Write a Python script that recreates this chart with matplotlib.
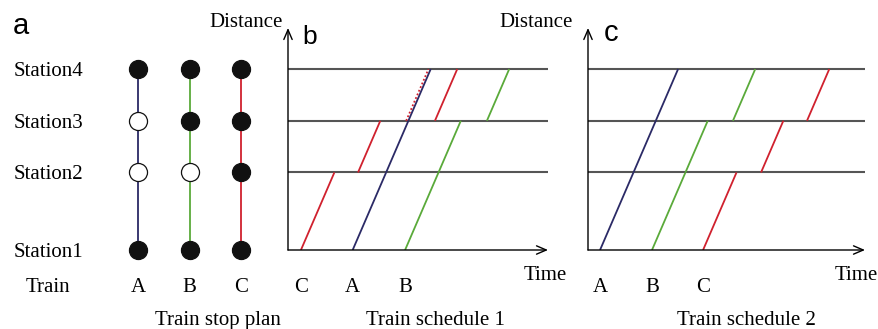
import matplotlib
matplotlib.use("Agg")
import matplotlib.pyplot as plt

# station positions (distance) and names
stations = ["Station1", "Station2", "Station3", "Station4"]
distance = [0, 1.5, 2.5, 3.5]

trains = ["A", "B", "C"]
colors = {"A": "#2b2a66", "B": "#5aaa3a", "C": "#d0212e"}

# stop plan: 1 = stops, 0 = passes (Station1..Station4)
stop_A = [1, 0, 0, 1]
stop_B = [1, 0, 1, 1]
stop_C = [1, 1, 1, 1]

# schedule 1: departure time at Station1 and dwell at Station2, Station3
sched1_start = {"C": 0.58, "A": 2.9, "B": 5.25}
sched1_dwell = {"C": [1.06, 2.45], "A": [0, 0], "B": [0, 1.17]}
sched1_conflict = 5.3   # C would leave Station3 here without waiting for A

# schedule 2
sched2_start = {"A": 0.54, "B": 2.87, "C": 5.16}
sched2_dwell = {"A": [0, 0], "B": [0, 1.13], "C": [1.10, 1.06]}

speed = 1.0
W, H = 879, 329
serif = "Liberation Serif"
sans = "Liberation Sans"
fs = 15


def px(x, y):
    return x / W, 1 - y / H


def segments(start, dwell):
    segs = []
    t = start
    for i in range(1, len(distance)):
        t1 = t + (distance[i] - distance[i - 1]) / speed
        segs.append(((t, t1), (distance[i - 1], distance[i])))
        t = t1
        if i < len(distance) - 1:
            t += dwell[i - 1]
    return segs


fig = plt.figure(figsize=(W / 100, H / 100), dpi=100)

y_unit = 51.7
ybot, ytop = 79, 301
ylim = (0, (ytop - ybot) / y_unit)


def schedule_axes(left, right, start, dwell, title_x, title, dist_x, time_x, letter_x, letter_y, letter, letter_size):
    ax = fig.add_axes([left / W, ybot / H, (right - left) / W, (ytop - ybot) / H])
    xmax = (right - left) / 22.3
    ax.set_xlim(0, xmax)
    ax.set_ylim(*ylim)
    ax.axis("off")
    ax.hlines(distance[1:], 0, xmax, color="#555555", lw=1.5)
    arrow = dict(arrowstyle="->,head_length=0.7,head_width=0.3", color="black", lw=1, shrinkA=0, shrinkB=0)
    ax.annotate("", xy=(1, 0), xytext=(0, 0), xycoords="axes fraction", arrowprops=arrow)
    ax.annotate("", xy=(0, 1), xytext=(0, 0), xycoords="axes fraction", arrowprops=arrow)
    for tr, t0 in start.items():
        for ts, ds in segments(t0, dwell[tr]):
            ax.plot(ts, ds, color=colors[tr], lw=1.3, solid_capstyle="butt")
        ax.text(t0, -0.68, tr, ha="center", va="center_baseline", fontsize=fs, family=serif)
    fig.text(*px(title_x, 318), title, ha="center", va="center_baseline", fontsize=fs, family=serif)
    fig.text(*px(dist_x, 20), "Distance", ha="right", va="center_baseline", fontsize=fs, family=serif)
    fig.text(*px(time_x, 273), "Time", ha="center", va="center_baseline", fontsize=fs, family=serif)
    fig.text(*px(letter_x, letter_y), letter, ha="left", va="center", fontsize=letter_size, family=sans)
    return ax


axb = schedule_axes(288, 548, sched1_start, sched1_dwell, 435, "Train schedule 1", 283, 545,
                    302, 37, "b", 19)
# dotted red: planned run of C blocked by A
axb.plot([sched1_conflict, sched1_conflict + (distance[3] - distance[2]) / speed],
         [distance[2], distance[3]], color=colors["C"], lw=1.3, ls=(0, (1, 1.2)))

axc = schedule_axes(588, 865, sched2_start, sched2_dwell, 746, "Train schedule 2", 573, 856,
                    604, 33, "c", 21)

# panel a: stop plan
axa = fig.add_axes([0, ybot / H, 288 / W, (ytop - ybot) / H])
sp = 51.5
axa.set_xlim(1 - 138 / sp, 1 + (288 - 138) / sp)
axa.set_ylim(*ylim)
axa.axis("off")
for i, (tr, stops) in enumerate(zip(trains, [stop_A, stop_B, stop_C])):
    x = i + 1
    axa.plot([x, x], [distance[0], distance[-1]], color=colors[tr], lw=1.3, zorder=1)
    for d, s in zip(distance, stops):
        axa.plot(x, d, "o", ms=13, mfc="#111111" if s else "white", mec="#111111", mew=0.9,
                 zorder=2, clip_on=False)
    axa.text(x, -0.68, tr, ha="center", va="center_baseline", fontsize=fs, family=serif)
for name, d in zip(stations, distance):
    axa.text(1 - (138 - 14) / sp, d, name, ha="left", va="center_baseline", fontsize=fs, family=serif)
axa.text(1 - (138 - 48) / sp, -0.68, "Train", ha="center", va="center_baseline", fontsize=fs, family=serif)
fig.text(*px(218, 318), "Train stop plan", ha="center", va="center_baseline", fontsize=fs, family=serif)
fig.text(*px(13, 26), "a", ha="left", va="center", fontsize=21, family=sans)

fig.savefig("out.png", dpi=100)
